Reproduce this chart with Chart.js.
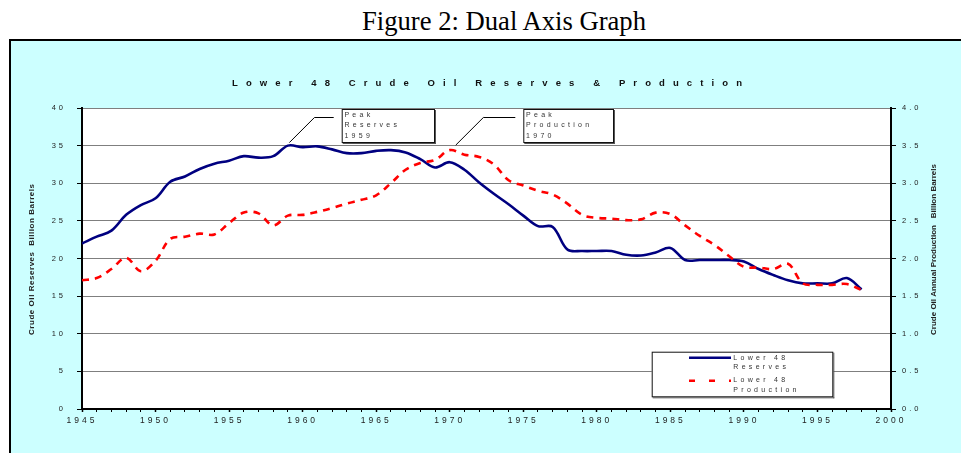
<!DOCTYPE html>
<html><head><meta charset="utf-8">
<script src="https://cdn.jsdelivr.net/npm/chart.js@4/dist/chart.umd.min.js"></script>
<style>
html,body{margin:0;padding:0;background:#fff;width:961px;height:453px;overflow:hidden;}
#fig{position:absolute;left:362px;top:8px;font:27px/1 "Liberation Serif","Times New Roman",serif;color:#000;white-space:nowrap;transform-origin:0 0;}
#frame{position:absolute;left:9px;top:39px;width:960px;height:420px;background:#ccffff;border:2px solid #000;box-sizing:border-box;}
#wrap{position:absolute;left:0;top:0;width:961px;height:453px;}
</style></head><body>
<div id="fig">Figure 2: Dual Axis Graph</div>
<div id="frame"></div>
<div id="wrap"><canvas id="c"></canvas></div>
<script>
// ---- data ----
const years = [1945,1946,1947,1948,1949,1950,1951,1952,1953,1954,
               1955,1956,1957,1958,1959,1960,1961,1962,1963,1964,
               1965,1966,1967,1968,1969,1970,1971,1972,1973,1974,
               1975,1976,1977,1978,1979,1980,1981,1982,1983,1984,
               1985,1986,1987,1988,1989,1990,1991,1992,1993,1994,
               1995,1996,1997,1998];
// Lower 48 crude oil reserves, billion barrels (left axis)
const reserves = [22.0,22.9,23.7,25.8,27.1,28.0,30.2,30.9,31.9,32.6,
                  33.0,33.6,33.4,33.6,35.0,34.8,34.9,34.5,34.0,34.0,
                  34.3,34.4,34.1,33.2,32.1,32.8,31.8,30.1,28.6,27.2,
                  25.7,24.3,24.2,21.2,21.0,21.0,21.0,20.5,20.4,20.8,
                  21.4,19.8,19.8,19.8,19.8,19.6,18.6,17.8,17.1,16.7,
                  16.7,16.7,17.4,15.9];
// Lower 48 crude oil annual production, billion barrels (right axis)
const production = [1.71,1.74,1.86,2.01,1.83,1.97,2.26,2.29,2.33,2.32,
                    2.47,2.61,2.60,2.44,2.57,2.58,2.62,2.67,2.73,2.78,
                    2.84,3.00,3.18,3.27,3.31,3.44,3.38,3.35,3.25,3.04,
                    2.97,2.90,2.85,2.73,2.58,2.54,2.53,2.51,2.52,2.61,
                    2.59,2.44,2.30,2.18,2.03,1.89,1.88,1.86,1.93,1.67,
                    1.65,1.65,1.66,1.58];
const seriesLabels = ['Lower 48 Reserves','Lower 48 Production'];
const legendLines = [['Lower 48','Reserves'],['Lower 48','Production']];
const chartTitle = 'Lower 48 Crude Oil Reserves & Production';
const leftTitle = 'Crude Oil Reserves  Billion Barrels';
const rightTitle = 'Crude Oil Annual Production   Billion Barrels';
const peakNotes = [
  {lines:['Peak','Reserves','1959'], year:1959, series:'reserves'},
  {lines:['Peak','Production','1970'], year:1970, series:'production'}
];
const xMin = 1945, xMax = 2000, xStep = 5;
const yMax = 40, yStep = 5, y1Max = 4, y1Step = 0.5;

// condense the heading to the reference width
(function(){
  const f = document.getElementById('fig');
  const w = f.getBoundingClientRect().width;
  if (w > 0) f.style.transform = 'scaleX(' + (284 / w) + ')';
})();

function txt(ctx, s, x, y, font, color, spacing, align){
  ctx.save();
  ctx.font = font; ctx.fillStyle = color; ctx.textBaseline = 'middle'; ctx.textAlign = align || 'left';
  ctx.letterSpacing = (spacing||0) + 'px';
  ctx.fillText(s, x, y);
  ctx.restore();
}
function fitTxt(ctx, s, x, y, font, color, target){
  ctx.save();
  ctx.font = font; ctx.letterSpacing = '0px';
  const w0 = ctx.measureText(s).width;
  ctx.restore();
  const sp = (target - w0) / (s.length - 1);
  txt(ctx, s, x, y, font, color, sp, 'left');
}
function boxed(ctx, x0, y0, x1, y1){
  ctx.save();
  ctx.fillStyle = '#fff'; ctx.fillRect(x0, y0, x1-x0, y1-y0);
  ctx.strokeStyle = '#111'; ctx.lineWidth = 1;
  ctx.strokeRect(x0+0.5, y0+0.5, x1-x0-1, y1-y0-1);
  ctx.fillStyle = '#555';
  ctx.fillRect(x0+1, y1, x1-x0, 1);
  ctx.fillRect(x1, y0+1, 1, y1-y0);
  ctx.restore();
}

const overlay = {
  id: 'overlay',
  beforeDraw(chart){
    const {ctx, chartArea: a} = chart;
    ctx.save(); ctx.fillStyle = '#fff';
    ctx.fillRect(a.left, a.top, a.right-a.left, a.bottom-a.top); ctx.restore();
    ctx.letterSpacing = '3px';
  },
  afterDraw(chart){
    const ctx = chart.ctx;
    ctx.letterSpacing = '0px';
    const xs = chart.scales.x, ys = chart.scales.y, y1s = chart.scales.y1;
    // chart title
    fitTxt(ctx, chartTitle, 232, 83, 'bold 9.5px Arial, "Liberation Sans", sans-serif', '#111', 510);
    // axis titles (rotated, reading bottom-to-top)
    [[leftTitle, 32, 259.5, 151], [rightTitle, 934, 249.5, 171]].forEach(([s, cx, cy, len]) => {
      ctx.save(); ctx.translate(cx, cy); ctx.rotate(-Math.PI/2);
      fitTxt(ctx, s, -len/2, 0, 'bold 8px Arial, "Liberation Sans", sans-serif', '#222', len);
      ctx.restore();
    });
    // peak annotations
    const boxes = [[341.7,109,435,143],[523.3,109,614,143]];
    peakNotes.forEach((n, i) => {
      const idx = years.indexOf(n.year);
      let ax, ay;
      if (n.series === 'reserves') {
        ax = xs.getPixelForValue(n.year) + 1.4; ay = ys.getPixelForValue(reserves[idx]) - 3;
      } else {
        ax = xs.getPixelForValue(n.year) + 6; ay = y1s.getPixelForValue(production[idx]) - 5;
      }
      const b = boxes[i];
      ctx.save(); ctx.strokeStyle = '#000'; ctx.lineWidth = 1;
      ctx.beginPath(); ctx.moveTo(b[0]-8, 117.5); ctx.lineTo(ax + (117.5 < ay ? (ay-117.5) : 0), 117.5); ctx.lineTo(ax, ay); ctx.stroke();
      ctx.restore();
      boxed(ctx, b[0], b[1], b[2], b[3]);
      n.lines.forEach((s, j) => txt(ctx, s, b[0]+2.7, [115,125,135.7][j], '7px Arial, "Liberation Sans", sans-serif', '#333', 3.3));
    });
    // legend
    boxed(ctx, 651.7, 351.7, 833.3, 397.3);
    const ds = chart.data.datasets;
    ctx.save(); ctx.lineWidth = 2.5;
    ctx.strokeStyle = ds[0].borderColor; ctx.beginPath(); ctx.moveTo(689, 357.7); ctx.lineTo(731, 357.7); ctx.stroke();
    ctx.strokeStyle = ds[1].borderColor; ctx.setLineDash([6,14]); ctx.beginPath(); ctx.moveTo(689, 380.7); ctx.lineTo(731, 380.7); ctx.stroke();
    ctx.restore();
    const ly = [[357.7,366.7],[379.7,389.7]];
    legendLines.forEach((ls, i) => ls.forEach((s, j) => txt(ctx, s, 733.3, ly[i][j], '7px Arial, "Liberation Sans", sans-serif', '#333', 3.3)));
    ctx.letterSpacing = '0px';
  }
};

const tickFontY = {family: 'Arial, "Liberation Sans", sans-serif', size: 7.5};
const tickFontX = {family: 'Arial, "Liberation Sans", sans-serif', size: 8.5};

new Chart(document.getElementById('c'), {
  type: 'line',
  data: {
    datasets: [
      { label: seriesLabels[0], yAxisID: 'y', order: 1,
        data: years.map((yr, i) => ({x: yr, y: reserves[i]})),
        borderColor: '#000080', borderWidth: 2.6, pointRadius: 0, tension: 0.35, fill: false },
      { label: seriesLabels[1], yAxisID: 'y1', order: 0,
        data: years.map((yr, i) => ({x: yr, y: production[i]})),
        borderColor: '#ff0000', borderWidth: 2.6, borderDash: [7,6], pointRadius: 0, tension: 0.35, fill: false }
    ]
  },
  options: {
    responsive: true, maintainAspectRatio: false, animation: false, devicePixelRatio: 1,
    layout: {padding: {top: 108, left: 0, right: 0, bottom: 0}},
    plugins: {legend: {display: false}, title: {display: false}, tooltip: {enabled: false}},
    scales: {
      x: {
        type: 'linear', min: xMin, max: xMax,
        afterFit: s => { s.height = 44; },
        ticks: { stepSize: 1, autoSkip: false, maxRotation: 0, padding: 4, color: '#222', font: tickFontX,
                 callback: v => (v % xStep === 0 ? String(v) : '') },
        grid: { drawOnChartArea: false, drawTicks: true, tickLength: 3, tickColor: '#000',
                tickWidth: c => (c.tick && c.tick.value % xStep === 0 ? 1.5 : 1) },
        border: { display: true, color: '#000', width: 2 }
      },
      y: {
        position: 'left', min: 0, max: yMax,
        afterFit: s => { s.width = 82; },
        ticks: { stepSize: yStep, padding: 11, color: '#222', font: tickFontY, callback: v => String(v) },
        grid: { color: '#7f7f7f', lineWidth: 1, drawTicks: true, tickLength: 5, tickColor: '#000' },
        border: { display: true, color: '#000', width: 2 }
      },
      y1: {
        position: 'right', min: 0, max: y1Max,
        afterFit: s => { s.width = 70; },
        ticks: { stepSize: y1Step, padding: 6, color: '#222', font: tickFontY, callback: v => Number(v).toFixed(1) },
        grid: { drawOnChartArea: false, drawTicks: true, tickLength: 5, tickColor: '#000' },
        border: { display: true, color: '#000', width: 2 }
      }
    }
  },
  plugins: [overlay]
});
</script>
</body></html>
